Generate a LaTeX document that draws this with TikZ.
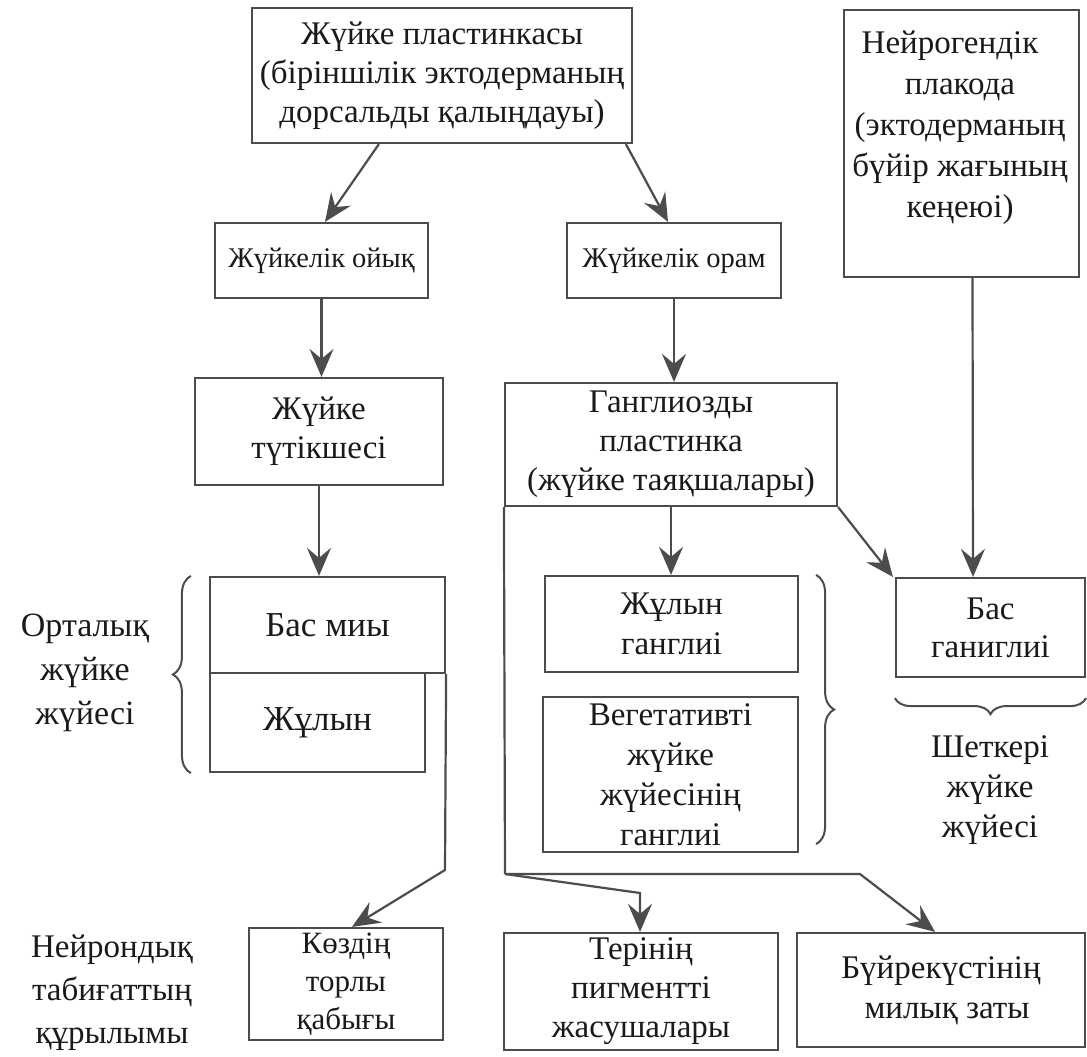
\documentclass[tikz,border=0pt]{standalone}
\usepackage{fontspec}
\setmainfont{Liberation Serif}
\usetikzlibrary{arrows.meta,decorations.pathreplacing}
\definecolor{lc}{HTML}{4C4C4C}
\definecolor{tx}{HTML}{1A1A1A}
\begin{document}
\begin{tikzpicture}[x=1pt,y=-1pt,
  bx/.style={draw=lc,line width=2.2pt,inner sep=0pt,align=center,text=tx,font=\fontsize{33}{39}\selectfont},
  sbx/.style={bx,font=\fontsize{28.5}{32}\selectfont},
  lbl/.style={inner sep=0pt,align=center,text=tx,font=\fontsize{33}{40}\selectfont},
  arr/.style={draw=lc,line width=2.2pt,-{Stealth[length=28pt,width=24pt,inset=10pt]}},
  lnst/.style={draw=lc,line width=2.2pt},
  br/.style={draw=lc,line width=2pt,decorate,decoration={brace,amplitude=#1}},
  br/.default=18]
\fill[white] (0,0) rectangle (1087,1057);
\useasboundingbox (0,0) rectangle (1087,1057);

% boxes
\node[bx,minimum width=380pt,minimum height=135pt] (top) at (442,75.5)
  {Жүйке пластинкасы\\(біріншілік эктодерманың\\дорсальды қалыңдауы)};
\node[bx,minimum width=235pt,minimum height=267pt] (plac) at (961.5,143.5) {};
\node[lbl,font=\fontsize{33}{41}\selectfont] (plactext) at (960,128)
  {Нейрогендік\hspace*{20pt}\\плакода\\(эктодерманың\\бүйір жағының\\кеңеюі)};
\node[sbx,minimum width=213pt,minimum height=75pt] (oyk) at (321.5,260.5) {Жүйкелік ойық};
\node[sbx,minimum width=214pt,minimum height=75pt] (oram) at (674,260.5) {Жүйкелік орам};
\node[bx,minimum width=248pt,minimum height=107pt] (tut) at (319,431.5) {Жүйке\\түтікшесі};
\node[bx,minimum width=332pt,minimum height=123pt] (gang) at (671,444.5)
  {Ганглиозды\\пластинка\\(жүйке таяқшалары)};
\node[bx,minimum width=235pt,minimum height=96pt,font=\fontsize{35}{40}\selectfont] (basmi) at (327.5,625) {Бас миы};
\node[bx,minimum width=215pt,minimum height=99pt,font=\fontsize{35}{40}\selectfont] (zhulyn) at (317.5,722.5) {Жұлын};
\node[bx,minimum width=253pt,minimum height=96pt,font=\fontsize{33}{40}\selectfont] (zhg) at (671.5,624) {Жұлын\\ганглиі};
\node[bx,minimum width=255pt,minimum height=155pt,font=\fontsize{33}{40}\selectfont] (veg) at (670.5,774.5)
  {Вегетативті\\жүйке\\жүйесінің\\ганглиі};
\node[bx,minimum width=189pt,minimum height=99pt,font=\fontsize{33}{38}\selectfont] (basg) at (990.5,627.5) {Бас\\ганиглиі};
\node[bx,minimum width=194pt,minimum height=112pt,font=\fontsize{31}{38}\selectfont] (koz) at (346,984) {Көздің\\торлы\\қабығы};
\node[bx,minimum width=274pt,minimum height=117pt,font=\fontsize{33}{39}\selectfont] (ter) at (641,991.5) {Терінің\\пигментті\\жасушалары};
\node[bx,minimum width=288pt,minimum height=114pt,font=\fontsize{33}{40}\selectfont] (buy) at (941,990) {Бүйрекүстінің\\\hspace*{12pt}милық заты};

% labels
\node[lbl,font=\fontsize{34}{44}\selectfont] (ort) at (85,673) {Орталық\\жүйке\\жүйесі};
\node[lbl,font=\fontsize{33}{43}\selectfont] (neir) at (112,993) {Нейрондық\\табиғаттың\\құрылымы};
\node[lbl,font=\fontsize{33}{40}\selectfont] (shet) at (990,790) {Шеткері\\жүйке\\жүйесі};

% arrows
\draw[arr] ([xshift=128pt]top.south west) -- ([xshift=3.5pt]oyk.north);
\draw[arr] ([xshift=375pt]top.south west) -- ([xshift=-6pt]oram.north);
\draw[arr] (oyk.south) -- (oyk.south |- tut.north);
\draw[arr] (tut.south) -- (tut.south |- basmi.north);
\draw[arr] (oram.south) -- (oram.south |- gang.north);
\draw[arr] (gang.south) -- (gang.south |- zhg.north);
\draw[arr] (gang.south east) -- ([xshift=-2pt]basg.north west);
\draw[arr] ([xshift=11pt]plac.south) -- ([xshift=-17.5pt]basg.north);

\coordinate (c1) at (445,870);
\draw[arr] (basmi.south east) -- (c1) -- ([xshift=6pt]koz.north);

\coordinate (j) at (505,874);
\coordinate (c2) at (640,893);
\coordinate (c3) at (860,874);
\draw[lnst] (gang.south west) -- (j);
\draw[arr] (j) -- (c2) -- (c2 |- ter.north);
\draw[arr] (j) -- (c3) -- ([xshift=-6pt]buy.north);

% braces
\draw[br=18] ([xshift=-18pt]zhulyn.south west) -- ([xshift=-18pt]basmi.north west);
\draw[br=18] ([xshift=17pt]zhg.north east) -- ([xshift=17pt,yshift=9pt]veg.south east);
\draw[br=16] ([yshift=-20pt]basg.south east) -- ([yshift=-20pt]basg.south west);
\end{tikzpicture}
\end{document}
